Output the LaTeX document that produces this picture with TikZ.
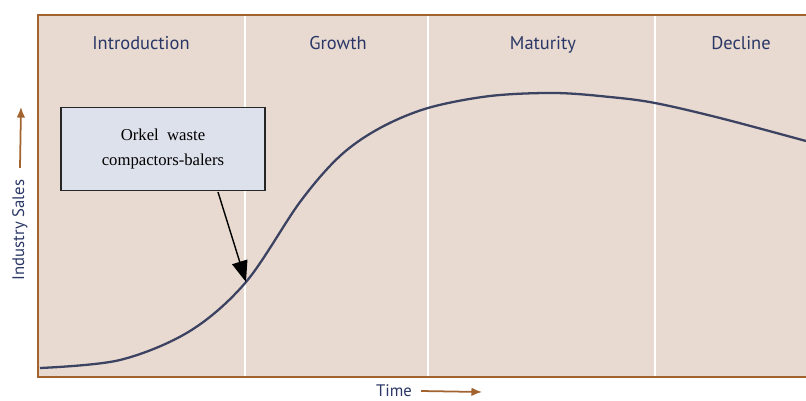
\documentclass[tikz,border=0pt]{standalone}
\usepackage{fontspec}
\setmainfont{Liberation Serif}
\newfontfamily\labelfont{PT Sans}
\usetikzlibrary{arrows.meta}

\definecolor{panel}{HTML}{E8DAD0}
\definecolor{rim}{HTML}{A2632F}
\definecolor{ink}{HTML}{2A3766}
\definecolor{curve}{HTML}{3C4262}
\definecolor{notefill}{HTML}{DDE1EC}

\tikzset{
  stage/.style={font=\labelfont\fontsize{10.5}{12}\selectfont, text=ink, anchor=base},
  axislabel/.style={font=\labelfont\fontsize{9.5}{11}\selectfont, text=ink},
  axisarrow/.style={draw=rim, line width=1pt, -{Latex[length=6pt,width=5pt]}},
  note/.style={draw=black!85, fill=notefill, thick, minimum width=4.08cm,
    minimum height=1.66cm, align=center, font=\fontsize{9.5}{14}\selectfont},
}

\begin{document}
\begin{tikzpicture}[x=0.02cm, y=-0.02cm]
    \useasboundingbox (0,0) rectangle (806,400);

    % panel and its three visible edges
    \fill[panel] (38,15) rectangle (806,377);
    \foreach \xs in {245,428,655}
        \draw[white, line width=1.6pt] (\xs,16) -- (\xs,376);
    \draw[rim, line width=1.5pt] (806,15) -- (38,15) -- (38,377) -- (806,377);

    % stages
    \node[stage] (intro)   at (141,49) {Introduction};
    \node[stage] (growth)  at (338,49) {Growth};
    \node[stage] (mature)  at (543,49) {Maturity};
    \node[stage] (decline) at (741,49) {Decline};

    % sales curve
    \begin{scope}
        \clip (39,16) rectangle (806,376);
        \draw[curve, line width=1.3pt] plot[smooth, tension=0.55] coordinates {
            (40,368) (120,360) (190,331) (246,282) (300,202) (340,156)
            (380,128) (428,108) (490,96) (555,93) (610,97) (655,103)
            (720,118) (806,141)};
    \end{scope}
    \coordinate (hit) at (246,282);

    % callout
    \node[note] (orkel) at (163,149) {Orkel\ \ waste\\compactors-balers};
    \draw[black, thick, -{Triangle[length=12pt,width=9pt]}] (218,192) -- (hit);

    % axes
    \node[axislabel, rotate=90] (sales) at (20,230) {Industry Sales};
    \coordinate (salestip) at (21,107);
    \draw[axisarrow] (sales.east) ++(0,-6) -- (salestip);
    \node[axislabel] (time) at (394,391) {Time};
    \coordinate (timetip) at (482,392);
    \draw[axisarrow] (time.east) ++(3,0) -- (timetip);
\end{tikzpicture}
\end{document}
